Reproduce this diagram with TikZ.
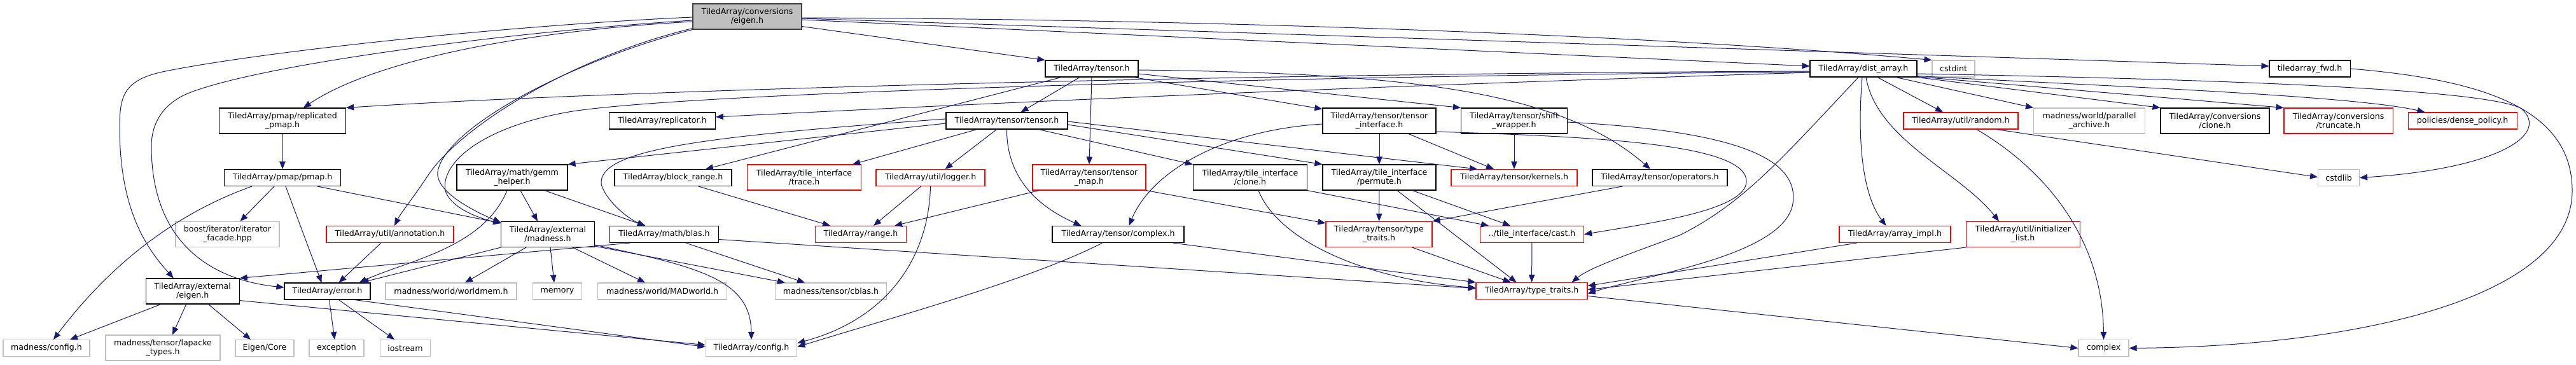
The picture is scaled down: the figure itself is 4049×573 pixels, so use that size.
\documentclass[tikz,border=0pt]{standalone}
\usepackage{fontspec}
\setmainfont{DejaVu Sans}
\usetikzlibrary{arrows.meta}
\definecolor{edgeblue}{HTML}{191970}
\definecolor{extgrey}{HTML}{BFBFBF}
\definecolor{rootgrey}{HTML}{BFBFBF}
\newcommand{\hfont}{\fontsize{12.6}{14.2}\selectfont}
\tikzset{
  hdr/.style={draw=black, fill=white, line width=1.1pt, inner sep=0pt, align=center, font=\hfont},
  ext/.style={hdr, draw=extgrey},
  trunc/.style={hdr, draw=red},
  top/.style={hdr, fill=rootgrey, draw=black!75},
  one/.style={minimum height=26pt},
  two/.style={minimum height=40pt},
  wd/.style={minimum width=#1},
  dep/.style={draw=edgeblue, line width=1pt, -{Triangle[length=12pt,width=9.5pt]}}
}
\begin{document}
\begin{tikzpicture}[x=1pt,y=-1pt]
\useasboundingbox (0,0) rectangle (4049,573);
% headers, rank by rank
\node[top, two, wd=171pt] (root) at (1174.5,26) {TiledArray/conversions\\/eigen.h};
\node[hdr, one, wd=146pt] (tensorh) at (1716,108) {TiledArray/tensor.h};
\node[hdr, one, wd=168pt] (dist) at (2929,108) {TiledArray/dist\_array.h};
\node[ext, one, wd=67pt] (cstdint) at (3070.5,108) {cstdint};
\node[hdr, one, wd=127pt] (fwd) at (3630.5,108) {tiledarray\_fwd.h};
\node[hdr, two, wd=199pt] (rpmap) at (444,190) {TiledArray/pmap/replicated\\\_pmap.h};
\node[hdr, one, wd=167pt] (replicator) at (1041,190) {TiledArray/replicator.h};
\node[hdr, one, wd=191pt] (ttensor) at (1582.5,190) {TiledArray/tensor/tensor.h};
\node[hdr, two, wd=178pt] (tiface) at (2168,190) {TiledArray/tensor/tensor\\\_interface.h};
\node[hdr, two, wd=167pt] (shiftw) at (2380,190) {TiledArray/tensor/shift\\\_wrapper.h};
\node[trunc, one, wd=180pt] (random) at (3082,190) {TiledArray/util/random.h};
\node[ext, two, wd=175pt] (parch) at (3284,190) {madness/world/parallel\\\_archive.h};
\node[hdr, two, wd=171pt] (cclone) at (3481.5,190) {TiledArray/conversions\\/clone.h};
\node[trunc, two, wd=171pt] (truncate) at (3675.5,190) {TiledArray/conversions\\/truncate.h};
\node[trunc, one, wd=171pt] (dense) at (3870.5,190) {policies/dense\_policy.h};
\node[hdr, one, wd=183pt] (pmap) at (444,279.5) {TiledArray/pmap/pmap.h};
\node[hdr, two, wd=174pt] (gemm) at (805,279) {TiledArray/math/gemm\\\_helper.h};
\node[hdr, one, wd=184pt] (brange) at (1058,279.5) {TiledArray/block\_range.h};
\node[trunc, two, wd=179pt] (trace) at (1264,279) {TiledArray/tile\_interface\\/trace.h};
\node[trunc, one, wd=171pt] (logger) at (1462.5,279.5) {TiledArray/util/logger.h};
\node[trunc, two, wd=178pt] (tmap) at (1712,279) {TiledArray/tensor/tensor\\\_map.h};
\node[hdr, two, wd=179pt] (tclone) at (1965,279) {TiledArray/tile\_interface\\/clone.h};
\node[hdr, two, wd=178pt] (permute) at (2168,279) {TiledArray/tile\_interface\\/permute.h};
\node[trunc, one, wd=198pt] (kernels) at (2380,279.5) {TiledArray/tensor/kernels.h};
\node[hdr, one, wd=212pt] (ops) at (2609,279.5) {TiledArray/tensor/operators.h};
\node[ext, one, wd=65pt] (cstdlib) at (3676,279.5) {cstdlib};
\node[ext, two, wd=163pt] (boost) at (357.5,368.5) {boost/iterator/iterator\\\_facade.hpp};
\node[trunc, one, wd=200pt] (annot) at (613,368.5) {TiledArray/util/annotation.h};
\node[hdr, two, wd=146.5pt] (madh) at (861,368.5) {TiledArray/external\\/madness.h};
\node[hdr, one, wd=171pt] (blas) at (1044,368.5) {TiledArray/math/blas.h};
\node[trunc, one, wd=143pt] (range) at (1353,368.5) {TiledArray/range.h};
\node[hdr, one, wd=207pt] (cplxh) at (1757.5,368.5) {TiledArray/tensor/complex.h};
\node[trunc, two, wd=167pt] (ttraits) at (2167.5,368.5) {TiledArray/tensor/type\\\_traits.h};
\node[trunc, one, wd=163pt] (cast) at (2408,368.5) {../tile\_interface/cast.h};
\node[trunc, one, wd=175pt] (aimpl) at (2978.5,368.5) {TiledArray/array\_impl.h};
\node[trunc, two, wd=178.5pt] (ilist) at (3180,368.5) {TiledArray/util/initializer\\\_list.h};
\node[hdr, two, wd=147pt] (eigx) at (302.7,458) {TiledArray/external\\/eigen.h};
\node[hdr, one, wd=135pt] (error) at (514.5,458) {TiledArray/error.h};
\node[ext, one, wd=206pt] (wmem) at (709,458) {madness/world/worldmem.h};
\node[ext, one, wd=77pt] (memory) at (876,458) {memory};
\node[ext, one, wd=203pt] (madw) at (1041,458) {madness/world/MADworld.h};
\node[ext, one, wd=175pt] (cblas) at (1306,458) {madness/tensor/cblas.h};
\node[trunc, one, wd=175pt] (traits) at (2407.5,457.5) {TiledArray/type\_traits.h};
\node[ext, one, wd=136pt] (mconf) at (73,547.5) {madness/config.h};
\node[ext, two, wd=180pt] (lapacke) at (256,547) {madness/tensor/lapacke\\\_types.h};
\node[ext, one, wd=92pt] (ecore) at (416,547.5) {Eigen/Core};
\node[ext, one, wd=86pt] (except) at (529,547.5) {exception};
\node[ext, one, wd=79pt] (iostream) at (637,547.5) {iostream};
\node[ext, one, wd=143.5pt] (config) at (1181,547.5) {TiledArray/config.h};
\node[ext, one, wd=79pt] (complex) at (3306.5,547.5) {complex};
% includes of conversions/eigen.h
\draw[dep] ([yshift=-1pt]root.west) .. controls (800,40) and (420,80) .. (260,112) .. controls (195,125) and (188,150) .. (188,200) .. controls (188,330) and (230,390) .. ([xshift=-30pt]eigx.north);
\draw[dep] ([yshift=-6pt]root.west) .. controls (800,50) and (420,100) .. (300,145) .. controls (260,160) and (238,190) .. (238,230) .. controls (238,380) and (330,440) .. ([yshift=6pt]error.west);
\draw[dep] ([yshift=-8pt]root.west) .. controls (800,50) and (580,100) .. ([xshift=33pt]rpmap.north);
\draw[dep] ([yshift=2pt]root.south west) .. controls (900,90) and (720,200) .. (670,280) .. controls (650,310) and (630,335) .. ([xshift=7pt]annot.north);
\draw[dep] (root.south west) .. controls (900,95) and (700,200) .. (688,270) .. controls (684,300) and (740,330) .. ([yshift=-2pt]madh.north west);
\draw[dep] ([yshift=5pt]root.south east) -- (tensorh.north west);
\draw[dep] ([yshift=-2pt]root.east) .. controls (1900,30) and (2600,55) .. (cstdint.north west);
\draw[dep] ([yshift=-5pt]root.east) -- ([yshift=4pt]dist.west);
\draw[dep] ([yshift=-3pt]root.east) -- ([yshift=4pt]fwd.west);
% dist_array.h
\draw[dep] ([yshift=-4pt]dist.west) .. controls (2000,115) and (1000,140) .. (rpmap.north east);
\draw[dep] ([yshift=-5pt]dist.west) .. controls (2000,120) and (1100,145) .. (900,175) .. controls (750,200) and (692,260) .. (700,300) .. controls (710,330) and (760,345) .. ([yshift=-3pt]madh.north west);
\draw[dep] ([yshift=-6pt]dist.west) .. controls (2000,140) and (1400,170) .. ([yshift=6pt]replicator.east);
\draw[dep] (dist.south east) -- (cclone.north west);
\draw[dep] ([yshift=1pt]dist.south east) -- (truncate.north west);
\draw[dep] ([yshift=2pt]dist.south east) .. controls (3300,135) and (3700,150) .. ([xshift=-59pt]dense.north);
\draw[dep] ([yshift=-8pt]dist.east) .. controls (3500,125) and (3900,140) .. (3962,170) .. controls (4010,210) and (3930,265) .. (cstdlib.east);
\draw[dep] ([xshift=22pt]dist.south) -- ([xshift=-28pt]random.north);
\draw[dep] ([xshift=51pt]dist.south) -- (parch.north west);
\draw[dep] ([xshift=-2pt]dist.south) .. controls (2918,230) and (2930,310) .. ([xshift=-14pt]aimpl.north);
\draw[dep] ([xshift=4pt]dist.south) .. controls (2950,220) and (3080,270) .. ([xshift=-38pt]ilist.north);
\draw[dep] ([xshift=-8pt]dist.south) .. controls (2800,250) and (2740,320) .. (2640,370) .. controls (2560,400) and (2500,420) .. ([xshift=63pt]traits.north);
% tensor.h
\draw[dep] ([xshift=-19pt]tensorh.south) -- ([xshift=22pt]ttensor.north);
\draw[dep] (tensorh.south) -- (tmap.north);
\draw[dep] ([xshift=-48pt]tensorh.south) -- ([xshift=51pt]brange.north);
\draw[dep] ([xshift=66pt]tensorh.south) -- ([yshift=-2pt]tiface.north west);
\draw[dep] ([yshift=-8pt]tensorh.east) -- (shiftw.north west);
\draw[dep] ([yshift=-2pt]tensorh.east) .. controls (2200,115) and (2450,140) .. ([xshift=-15pt]ops.north);
% tensor/tensor.h
\draw[dep] ([xshift=-16pt]ttensor.south) -- ([xshift=23pt]logger.north);
\draw[dep] (ttensor.south) .. controls (1582,270) and (1620,320) .. ([xshift=-58pt]cplxh.north);
\draw[dep] ([xshift=50pt]ttensor.south) -- (tclone.north west);
\draw[dep] ([xshift=-47pt]ttensor.south) -- ([xshift=76pt]trace.north);
\draw[dep] ([yshift=-4pt]ttensor.west) -- (gemm.north east);
\draw[dep] ([yshift=3pt]ttensor.west) .. controls (1100,215) and (940,235) .. (945,290) .. controls (955,320) and (990,345) .. ([xshift=-30pt]blas.north);
\draw[dep] ([yshift=-6pt]ttensor.east) -- (permute.north west);
\draw[dep] ([yshift=-1pt]ttensor.east) -- ([xshift=-58pt]kernels.north);
% tensor_interface.h, shift_wrapper.h
\draw[dep] ([yshift=-5pt]tiface.west) .. controls (1920,205) and (1810,270) .. ([xshift=17pt]cplxh.north);
\draw[dep] (tiface) -- (permute);
\draw[dep] ([xshift=46pt]tiface.south) -- ([xshift=-32pt]kernels.north);
\draw[dep] ([yshift=-17pt]tiface.east) .. controls (2500,215) and (2745,225) .. (2745,285) .. controls (2745,330) and (2600,350) .. (cast.east);
\draw[dep] (shiftw) -- (kernels);
\draw[dep] ([yshift=-2pt]shiftw.east) .. controls (2700,205) and (2830,240) .. (2818,320) .. controls (2805,400) and (2600,430) .. ([yshift=-4pt]traits.east);
% pmap
\draw[dep] (rpmap) -- (pmap);
\draw[dep] ([xshift=-48pt]pmap.south) .. controls (320,320) and (200,380) .. ([xshift=11pt]mconf.north);
\draw[dep] ([xshift=-13pt]pmap.south) -- ([xshift=20pt]boost.north);
\draw[dep] ([xshift=5pt]pmap.south) -- ([xshift=-9pt]error.north);
\draw[dep] ([xshift=55pt]pmap.south) -- ([yshift=-3pt]madh.north west);
\draw[dep] ([xshift=-14pt]annot.south) -- ([xshift=18pt]error.north);
% external/eigen.h, error.h
\draw[dep] ([xshift=-50pt]eigx.south) -- ([xshift=37pt]mconf.north);
\draw[dep] ([xshift=-10pt]eigx.south) -- ([xshift=15pt]lapacke.north);
\draw[dep] ([xshift=25pt]eigx.south) -- ([xshift=-22pt]ecore.north);
\draw[dep] ([yshift=6pt]eigx.south east) -- ([yshift=5pt]config.west);
\draw[dep] ([xshift=3pt]error.south) -- ([xshift=-3pt]except.north);
\draw[dep] ([xshift=18pt]error.south) -- ([xshift=-17pt]iostream.north);
\draw[dep] ([xshift=43pt]error.south) -- ([yshift=2pt]config.west);
% external/madness.h, gemm_helper.h, blas.h
\draw[dep] (madh.south west) -- ([xshift=53pt]error.north);
\draw[dep] ([xshift=-34pt]madh.south) -- ([xshift=22pt]wmem.north);
\draw[dep] ([xshift=4pt]madh.south) -- ([xshift=-5pt]memory.north);
\draw[dep] ([xshift=39pt]madh.south) -- ([xshift=-27pt]madw.north);
\draw[dep] ([yshift=2pt]madh.south east) -- ([xshift=-72pt]cblas.north);
\draw[dep] ([yshift=4pt]madh.south east) .. controls (1100,420) and (1180,440) .. (config.north);
\draw[dep] ([xshift=13pt]gemm.south) -- ([xshift=-16pt]madh.north);
\draw[dep] ([xshift=51pt]gemm.south) -- ([xshift=-30pt]blas.north);
\draw[dep] ([xshift=-8pt]gemm.south) .. controls (760,390) and (640,410) .. ([xshift=50pt]error.north);
\draw[dep] ([xshift=-54pt]blas.south) -- (eigx.north east);
\draw[dep] ([xshift=34pt]blas.south) -- ([xshift=-41pt]cblas.north);
\draw[dep] ([yshift=-8pt]blas.east) -- ([yshift=4pt]traits.west);
% range, logger, tensor_map, complex.h
\draw[dep] ([xshift=40pt]brange.south) -- ([xshift=-48pt]range.north);
\draw[dep] ([xshift=-15pt]logger.south) -- ([xshift=20pt]range.north);
\draw[dep] (logger.south) .. controls (1460,400) and (1400,500) .. ([yshift=8pt]config.east);
\draw[dep] ([xshift=-79pt]tmap.south) -- ([xshift=53pt]range.north);
\draw[dep] (tmap.south east) -- ([yshift=-3pt]ttraits.north west);
\draw[dep] ([xshift=-25pt]cplxh.south) .. controls (1620,440) and (1400,500) .. ([yshift=2pt]config.east);
\draw[dep] ([xshift=86pt]cplxh.south) -- (traits.north west);
% tile interface and traits
\draw[dep] ([xshift=13pt]tclone.south) .. controls (2010,380) and (2150,440) .. ([yshift=5pt]traits.west);
\draw[dep] (tclone.south east) -- ([xshift=-68pt]cast.north);
\draw[dep] (permute) -- (ttraits);
\draw[dep] ([xshift=52pt]permute.south) -- ([xshift=-34pt]cast.north);
\draw[dep] ([xshift=28pt]permute.south) -- ([xshift=-24pt]traits.north);
\draw[dep] ([xshift=-59pt]ops.south) -- (ttraits.north east);
\draw[dep] ([xshift=52pt]ttraits.south) -- ([xshift=-33pt]traits.north);
\draw[dep] (cast) -- (traits);
\draw[dep] ([xshift=-60pt]aimpl.south) -- ([yshift=8pt]traits.east);
\draw[dep] (ilist.south west) -- ([yshift=2pt]traits.east);
% random.h, type_traits.h, tiledarray_fwd.h
\draw[dep] ([xshift=56pt]random.south) -- ([yshift=1pt]cstdlib.west);
\draw[dep] ([xshift=25pt]random.south) .. controls (3220,270) and (3305,380) .. (complex.north);
\draw[dep] ([yshift=-8pt]traits.east) -- (complex.west);
\draw[dep] (fwd.east) .. controls (3900,125) and (4043,170) .. (4043,300) .. controls (4043,470) and (3700,545) .. (complex.east);
\end{tikzpicture}
\end{document}
